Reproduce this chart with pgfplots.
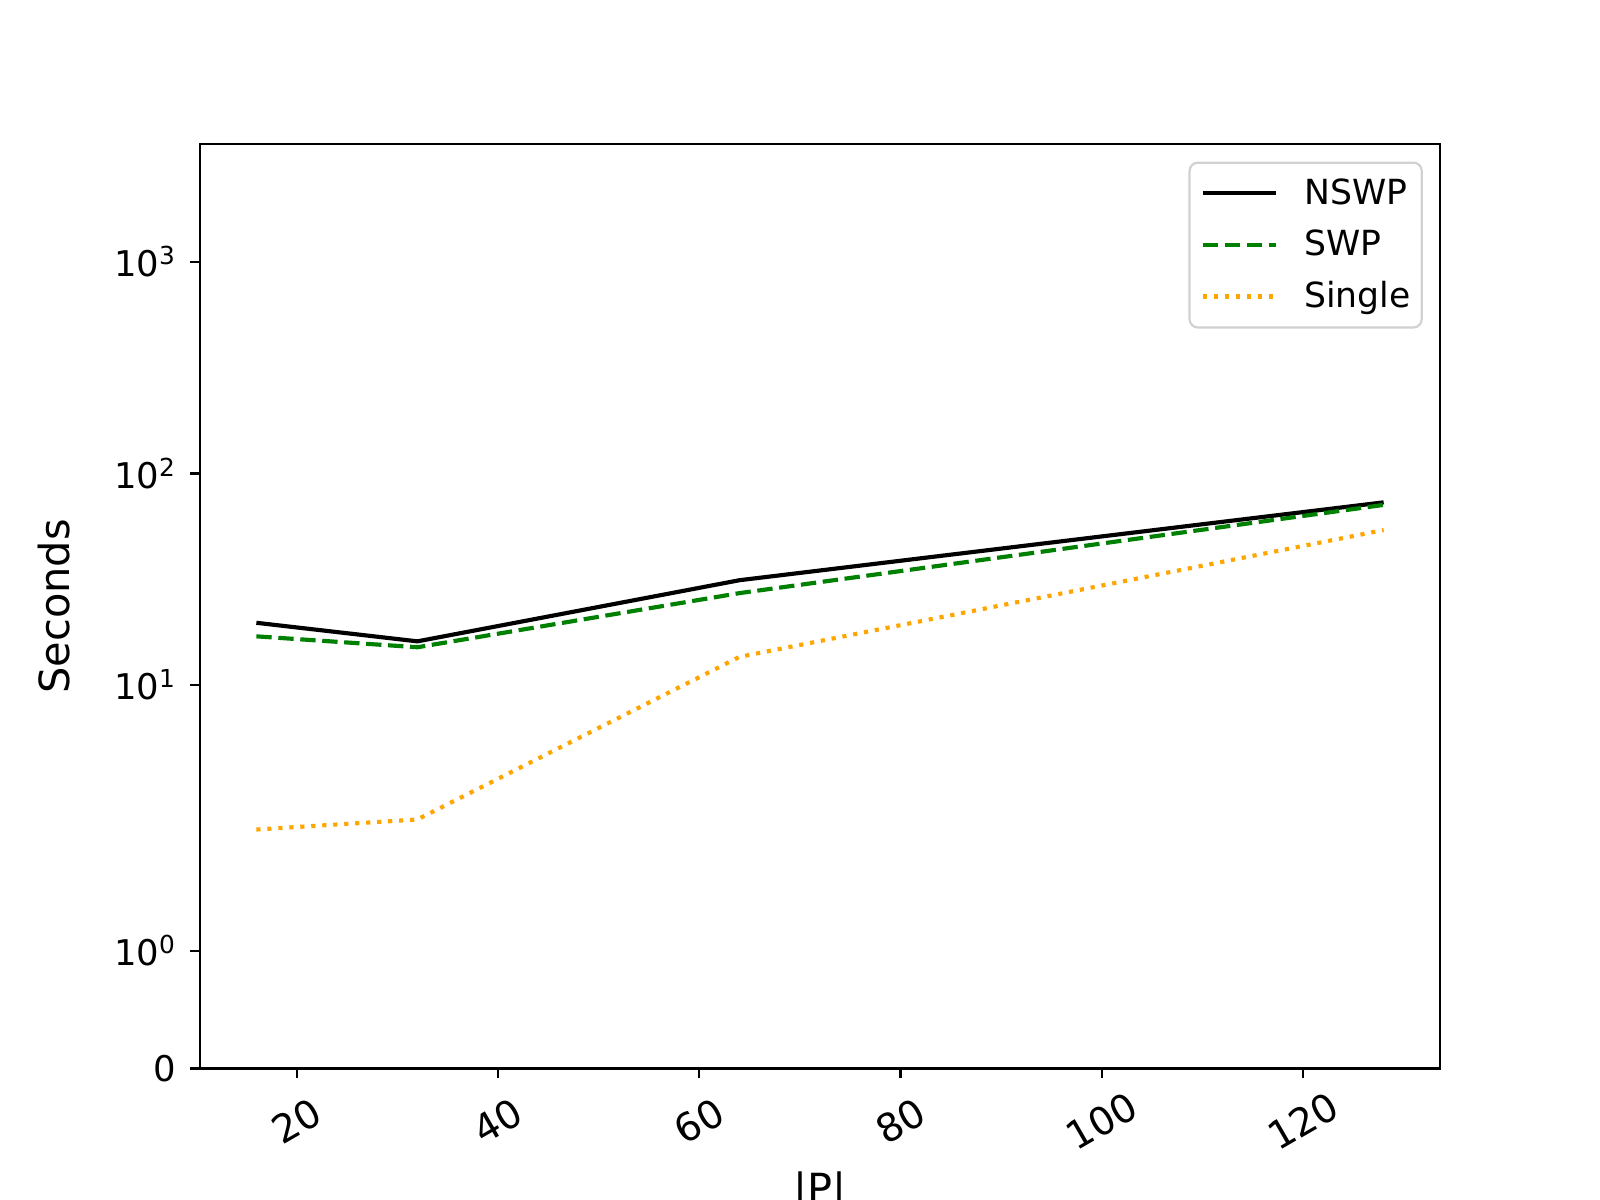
\documentclass[border=0pt]{standalone}
\usepackage{pgfplots}
\pgfplotsset{compat=1.18}
\usepackage{fontspec}
\setmainfont{DejaVu Sans}
\definecolor{mplgreen}{HTML}{008000}
\definecolor{mplorange}{HTML}{FFA500}

% symlog, linthresh=2, linscale=1
\pgfplotsset{symlog/.style={
  y coord trafo/.code={%
    \begingroup
    \pgfkeys{/pgf/fpu=true,/pgf/fpu/output format=fixed}%
    \pgfmathparse{##1>2 ? 2*(1.111111+log10(max(##1,0.000001)/2)) : 1.111111*##1}%
    \global\let\symres\pgfmathresult
    \endgroup
    \let\pgfmathresult\symres}
}}

\begin{document}
\begin{tikzpicture}
\path[use as bounding box] (-1in,-0.658in) rectangle (7in,5.342in);
\begin{axis}[
  symlog,
  at={(0,0)}, anchor=south west,
  scale only axis,
  width=6.2in, height=4.62in,
  xmin=10.4, xmax=133.6,
  ymin=0, ymax=3580,
  xtick={20,40,60,80,100,120},
  ytick={0,1,10,100,1000},
  yticklabels={0,10\textsuperscript{0},10\textsuperscript{1},10\textsuperscript{2},10\textsuperscript{3}},
  tick pos=left,
  tick align=outside,
  major tick length=3.5pt,
  minor tick num=0,
  axis line style={line width=0.8pt},
  every tick/.style={black, line width=0.8pt},
  xticklabel style={font=\fontsize{14}{16}\selectfont, anchor=center, yshift=-15.5pt, rotate=30},
  yticklabel style={font=\fontsize{12.8}{15}\selectfont, xshift=-1.5pt},
  /pgf/number format/assume math mode=true,
  xlabel={|P|},
  ylabel={Seconds},
  label style={font=\fontsize{15}{18}\selectfont},
  xlabel style={at={(rel axis cs:0.5,0)}, anchor=north, yshift=-34pt},
  ylabel style={at={(rel axis cs:0,0.5)}, anchor=center, yshift=52.9pt},
  legend cell align=left,
  legend style={at={(rel axis cs:1,1)}, anchor=north east, xshift=-6.2pt, yshift=-6.2pt,
    draw=black!18, line width=0.8pt, rounded corners=3pt, fill=white,
    inner xsep=4pt, inner ysep=1.8pt, row sep=0pt,
    nodes={inner xsep=0pt, inner ysep=3.9pt},
    /tikz/every odd column/.append style={column sep=9.5pt},
    font=\fontsize{12.5}{15}\selectfont},
  legend image code/.code={\draw[#1] (0cm,0cm) -- (0.93cm,0cm);},
]
\addplot[black, line width=1.5pt] coordinates {(16,19.7) (32,16.1) (64,31.3) (128,73)};
\addlegendentry{NSWP}
\addplot[mplgreen, line width=1.5pt, dash pattern=on 5.55pt off 2.4pt] coordinates {(16,17.0) (32,15.1) (64,27.2) (128,71)};
\addlegendentry{SWP}
\addplot[mplorange, line width=1.5pt, dash pattern=on 1.5pt off 2.475pt] coordinates {(16,2.08) (32,2.32) (64,13.6) (128,54)};
\addlegendentry{Single}
\end{axis}
\end{tikzpicture}
\end{document}
